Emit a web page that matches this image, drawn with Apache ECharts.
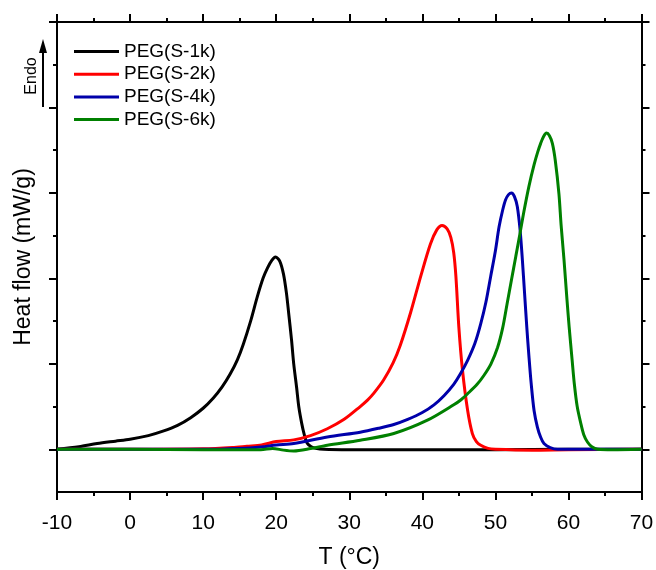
<!DOCTYPE html>
<html>
<head>
<meta charset="utf-8">
<script src="https://cdn.jsdelivr.net/npm/echarts@6/dist/echarts.min.js"></script>
<style>
  html, body { margin: 0; padding: 0; background: #fff; }
  #chart { width: 656px; height: 570px; }
</style>
</head>
<body>
<div id="chart"></div>
<script>
// series names
var seriesNames = ['PEG(S-1k)', 'PEG(S-2k)', 'PEG(S-4k)', 'PEG(S-6k)']

// PEG(S-1k)
var s1kT = [-10, -7, -4.5, -2, 0, 2.5, 4.5, 6.5, 8.3, 10, 11.4, 12.6, 13.7, 14.7, 15.5, 16.5, 17.4, 18.2, 18.8, 19.4, 19.9, 20.5, 21.0, 21.4, 21.7, 22.1, 22.4, 22.8, 23.1, 23.5, 23.8, 24.25, 24.8, 25.4, 26.5, 30, 40, 50, 60, 70]
var s1kV = [0, 0.03, 0.067, 0.095, 0.117, 0.16, 0.212, 0.28, 0.37, 0.48, 0.6, 0.73, 0.88, 1.05, 1.23, 1.5, 1.78, 2.0, 2.12, 2.21, 2.25, 2.2, 2.05, 1.83, 1.6, 1.28, 1.0, 0.72, 0.495, 0.3, 0.187, 0.07, 0.03, 0.012, 0, -0.005, -0.005, -0.005, 0, 0]

// PEG(S-2k)
var s2kT = [-10, 0, 10, 14, 16, 18, 20, 22.4, 24.7, 27, 29.3, 31.5, 32.5, 33.4, 34.7, 36, 37, 38.4, 39.8, 41.1, 42, 42.7, 43.4, 43.9, 44.3, 44.6, 45.0, 45.5, 46.2, 46.85, 47.4, 48, 49, 50, 55, 60, 70]
var s2kV = [0, 0, 0.005, 0.02, 0.035, 0.05, 0.09, 0.11, 0.16, 0.24, 0.35, 0.5, 0.575, 0.66, 0.81, 1.01, 1.22, 1.6, 2.03, 2.4, 2.57, 2.62, 2.58, 2.48, 2.3, 2.02, 1.43, 0.925, 0.457, 0.184, 0.09, 0.047, 0.01, 0, -0.01, -0.005, 0]

// PEG(S-4k)
var s4kT = [-10, 0, 10, 15, 17.9, 20, 22.4, 27, 31.5, 34, 36.1, 38, 40, 41.6, 43, 44.3, 45.2, 46.2, 47.2, 48, 48.7, 49.35, 50, 50.5, 51.0, 51.4, 51.8, 52.2, 52.6, 53.0, 53.4, 53.7, 54.0, 54.3, 54.6, 54.9, 55.3, 55.75, 56.2, 56.65, 57.5, 58.5, 62, 70]
var s4kV = [0, 0, 0, 0.01, 0.027, 0.05, 0.067, 0.144, 0.2, 0.245, 0.29, 0.35, 0.43, 0.52, 0.63, 0.76, 0.88, 1.04, 1.24, 1.47, 1.72, 2.02, 2.32, 2.6, 2.8, 2.92, 2.98, 3.0, 2.96, 2.84, 2.55, 2.21, 1.82, 1.43, 1.08, 0.77, 0.45, 0.26, 0.14, 0.067, 0.02, 0, 0, 0]

// PEG(S-6k)
var s6kT = [-10, 0, 10, 15, 17.9, 19.5, 21, 22.4, 24.7, 27, 31.5, 36.1, 40.7, 44.3, 45.3, 46.2, 47.5, 48.4, 49.4, 50.3, 51, 51.6, 52.2, 52.8, 53.4, 53.9, 54.6, 55.3, 55.8, 56.2, 56.6, 57.0, 57.4, 57.8, 58.2, 58.7, 59.0, 59.4, 59.8, 60.1, 60.5, 60.8, 61.2, 61.7, 62.1, 62.6, 63.2, 64, 66, 70]
var s6kV = [0, 0, -0.005, -0.005, -0.005, 0.01, -0.01, -0.02, 0.008, 0.047, 0.105, 0.184, 0.34, 0.52, 0.58, 0.65, 0.76, 0.86, 1.0, 1.19, 1.42, 1.7, 1.98, 2.26, 2.54, 2.78, 3.08, 3.33, 3.48, 3.58, 3.66, 3.70, 3.67, 3.58, 3.38, 2.99, 2.62, 2.21, 1.75, 1.43, 1.05, 0.77, 0.5, 0.3, 0.17, 0.085, 0.03, 0, -0.005, 0]

// axis ticks
var xTicks = { min: -10, max: 70, step: 10 }
var yMajorTicks = [0, 1, 2, 3, 4, 5]
var yMinorTicks = [0.5, 1.5, 2.5, 3.5, 4.5]

var colors = ['#000000', '#ff0000', '#0000aa', '#008000']
var font = 'Liberation Sans, Arial, sans-serif'

function zip(t, v) {
  return t.map(function (x, i) { return [x, v[i]] })
}

var chart = echarts.init(document.getElementById('chart'))

function xAxisOf(pos, withLabel) {
  return {
    type: 'value',
    position: pos,
    min: xTicks.min,
    max: xTicks.max,
    interval: xTicks.step,
    axisLine: { onZero: false, lineStyle: { color: '#000', width: 2 } },
    axisTick: { show: true, length: 8, lineStyle: { color: '#000', width: 2 } },
    minorTick: { show: true, splitNumber: 2, length: 4, lineStyle: { color: '#000', width: 2 } },
    splitLine: { show: false },
    axisLabel: { show: withLabel, color: '#000', fontSize: 21, fontFamily: font, margin: 21 },
    name: withLabel ? 'T (°C)' : '',
    nameLocation: 'middle',
    nameGap: 54,
    nameTextStyle: { color: '#000', fontSize: 23, fontFamily: font }
  }
}

function yAxisOf(pos, ticks, len, withLine, name) {
  return {
    type: 'value',
    position: pos,
    min: -0.5,
    max: 5,
    axisLine: { show: withLine, onZero: false, lineStyle: { color: '#000', width: 2 } },
    axisTick: { show: true, customValues: ticks, length: len, lineStyle: { color: '#000', width: 2 } },
    splitLine: { show: false },
    axisLabel: { show: false },
    name: name || '',
    nameLocation: 'middle',
    nameGap: 22,
    nameTextStyle: { color: '#000', fontSize: 23, fontFamily: font }
  }
}

var series = [s1kT, s2kT, s4kT, s6kT].map(function (t, i) {
  var v = [s1kV, s2kV, s4kV, s6kV][i]
  return {
    name: seriesNames[i],
    type: 'line',
    xAxisIndex: 0,
    yAxisIndex: 0,
    data: zip(t, v),
    showSymbol: false,
    smooth: 0.3,
    lineStyle: { color: colors[i], width: 3 },
    itemStyle: { color: colors[i] },
    z: 2 + i
  }
})

chart.setOption({
  animation: false,
  backgroundColor: '#fff',
  grid: { left: 57, right: 14.5, top: 22, bottom: 78, containLabel: false, outerBoundsMode: 'none' },
  xAxis: [xAxisOf('bottom', true), xAxisOf('top', false)],
  yAxis: [
    yAxisOf('left', yMajorTicks, 8, true, 'Heat flow (mW/g)'),
    yAxisOf('left', yMinorTicks, 4, false),
    yAxisOf('right', yMajorTicks, 8, true),
    yAxisOf('right', yMinorTicks, 4, false)
  ],
  legend: {
    orient: 'vertical',
    left: 74,
    top: 42,
    padding: 0,
    icon: 'rect',
    itemWidth: 45,
    itemHeight: 3,
    itemGap: 3.7,
    textStyle: { color: '#000', fontSize: 19, lineHeight: 19, fontFamily: font },
    data: seriesNames
  },
  graphic: [
    { type: 'line', shape: { x1: 43, y1: 107, x2: 43, y2: 50 }, style: { stroke: '#000', lineWidth: 2 } },
    { type: 'polygon', shape: { points: [[39, 53], [47, 53], [43, 39]] }, style: { fill: '#000' } },
    {
      type: 'text', x: 32, y: 76, rotation: Math.PI / 2,
      style: { text: 'Endo', font: '16px Liberation Sans', fill: '#000', align: 'center', verticalAlign: 'middle' }
    }
  ],
  series: series
})
</script>
</body>
</html>
